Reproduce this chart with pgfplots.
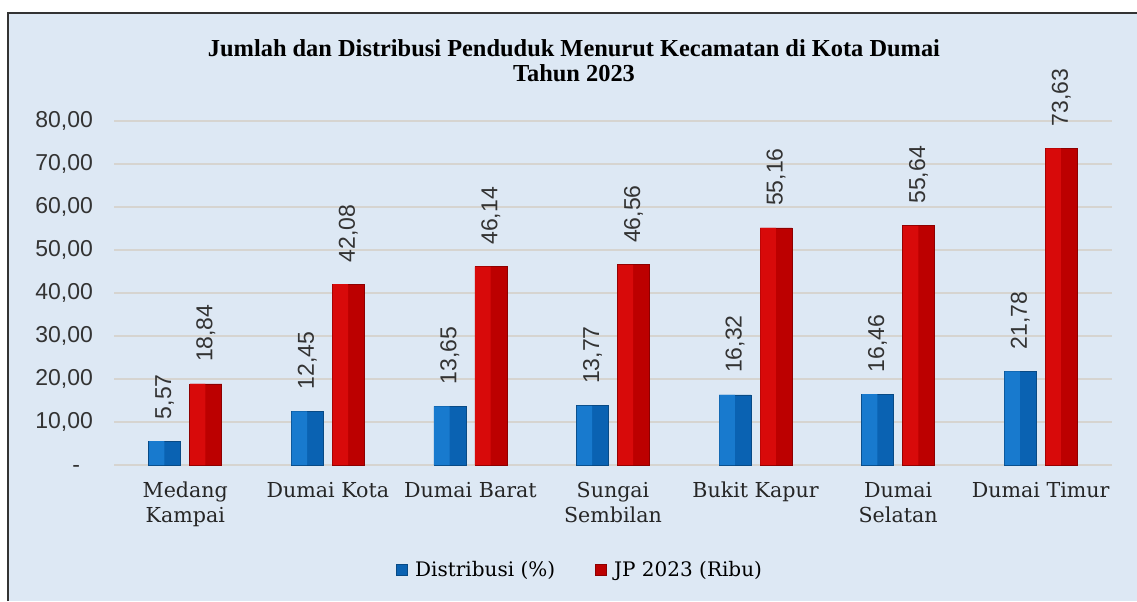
\documentclass[border=0pt]{standalone}
\usepackage{fontspec}
\usepackage{pgfplots}
\pgfplotsset{compat=1.18}
\setmainfont{DejaVu Serif}
\newfontfamily\numfont{Liberation Sans}
\newfontfamily\titlefont{Liberation Serif}
\definecolor{bgblue}{RGB}{221,232,244}
\definecolor{gridgray}{RGB}{214,212,208}
\definecolor{barblue}{RGB}{24,122,206}
\definecolor{barbluedark}{RGB}{10,98,178}
\definecolor{barred}{RGB}{216,10,10}
\definecolor{barreddark}{RGB}{188,0,0}

\pgfplotstableread{
x dist jp
0 5.57 18.84
1 12.45 42.08
2 13.65 46.14
3 13.77 46.56
4 16.32 55.16
5 16.46 55.64
6 21.78 73.63
}\datatable

\begin{document}
\begin{tikzpicture}
\useasboundingbox (0,0) rectangle (568.5pt,300.5pt);
\fill[bgblue] (4pt,0) rectangle (568.5pt,294pt);
\draw[black!80, line width=1pt] (4pt,0) -- (4pt,294pt) -- (568.5pt,294pt);
\node[font=\titlefont\bfseries\fontsize{12.2}{12.5}\selectfont, align=center] at (287pt,270pt)
  {Jumlah dan Distribusi Penduduk Menurut Kecamatan di Kota Dumai\\Tahun 2023};
\begin{axis}[
    at={(57pt,68pt)}, anchor=south west,
    scale only axis, width=499pt, height=172pt,
    ybar, bar width=16pt,
    xmin=-0.5, xmax=6.5, ymin=0, ymax=80,
    enlargelimits=false, clip=false,
    axis line style={draw=none},
    major tick length=0pt,
    ymajorgrids, grid style={gridgray, line width=1pt},
    ytick={0,10,...,80},
    yticklabels={{-\phantom{0}},{10,00},{20,00},{30,00},{40,00},{50,00},{60,00},{70,00},{80,00}},
    yticklabel style={font=\numfont\fontsize{11.5}{13}\selectfont, text=black!80, xshift=-7pt},
    xtick=data,
    xticklabels={{Medang\\Kampai},{Dumai Kota},{Dumai Barat},{Sungai\\Sembilan},{Bukit Kapur},{Dumai\\Selatan},{Dumai Timur}},
    xticklabel style={font=\fontsize{10.3}{12.5}\selectfont, align=center, text=black!85, yshift=-5pt},
    /pgf/number format/assume math mode=true,
    every node near coord/.append style={rotate=90, anchor=west, font=\numfont\fontsize{11.5}{13}\selectfont, text=black!80, inner sep=1pt, outer xsep=10pt},
    legend image code/.code={\draw[#1] (0pt,-2.6pt) rectangle (5.2pt,2.6pt);},
    legend style={at={(0.468,-0.305)}, anchor=center, draw=none, fill=none,
        legend columns=2, font=\fontsize{10}{12}\selectfont,
        /tikz/every odd column/.append style={column sep=2pt},
        /tikz/every even column/.append style={column sep=18pt}},
]
% full bars (darker right half) with value labels
\addplot[bar shift=-10.25pt, fill=barbluedark, draw=barbluedark!75!black, line width=0.3pt,
    nodes near coords={\pgfmathprintnumber[fixed, fixed zerofill, precision=2, use comma]{\pgfplotspointmeta}}]
    table[x=x, y=dist] {\datatable};
\addlegendentry{Distribusi (\%)}
\addplot[bar shift=10.25pt, fill=barreddark, draw=barreddark!75!black, line width=0.3pt,
    nodes near coords={\pgfmathprintnumber[fixed, fixed zerofill, precision=2, use comma]{\pgfplotspointmeta}}]
    table[x=x, y=jp] {\datatable};
\addlegendentry{JP 2023 (Ribu)}
% lighter left halves
\addplot[forget plot, bar width=7.7pt, bar shift=-14.25pt, fill=barblue, draw=none]
    table[x=x, y=dist] {\datatable};
\addplot[forget plot, bar width=7.7pt, bar shift=6.25pt, fill=barred, draw=none]
    table[x=x, y=jp] {\datatable};
\end{axis}
\end{tikzpicture}
\end{document}
